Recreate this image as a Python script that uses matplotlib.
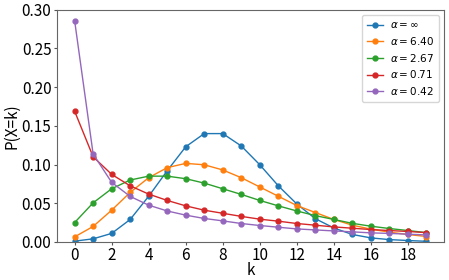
import matplotlib
matplotlib.use("Agg")
import matplotlib.pyplot as plt
import numpy as np

plt.rcParams['font.family'] = ['Noto Sans CJK JP', 'DejaVu Sans']

k = np.arange(20)

p_inf = [0.001, 0.004, 0.011, 0.029, 0.059, 0.092, 0.123, 0.140, 0.140, 0.124,
         0.0997, 0.0725, 0.049, 0.030, 0.018, 0.0096, 0.0052, 0.003, 0.0018, 0.0008]
p_640 = [0.0065, 0.020, 0.041, 0.064, 0.083, 0.096, 0.1015, 0.0997, 0.093, 0.083,
         0.071, 0.059, 0.047, 0.038, 0.029, 0.0216, 0.0165, 0.0126, 0.0096, 0.007]
p_267 = [0.025, 0.0505, 0.0687, 0.080, 0.085, 0.085, 0.0817, 0.076, 0.0687, 0.0614,
         0.0536, 0.0466, 0.040, 0.034, 0.029, 0.024, 0.0203, 0.0173, 0.0147, 0.012]
p_071 = [0.169, 0.110, 0.0873, 0.0725, 0.0618, 0.0536, 0.0466, 0.041, 0.037, 0.033,
         0.0294, 0.0268, 0.0238, 0.0216, 0.0194, 0.0177, 0.016, 0.0147, 0.0135, 0.012]
p_042 = [0.286, 0.1136, 0.077, 0.0588, 0.0475, 0.040, 0.0346, 0.0303, 0.0272, 0.0238,
         0.0212, 0.019, 0.0168, 0.0155, 0.0142, 0.013, 0.0117, 0.011, 0.010, 0.009]

series = [
    (p_inf, r'$\alpha=\infty$'),
    (p_640, r'$\alpha=6.40$'),
    (p_267, r'$\alpha=2.67$'),
    (p_071, r'$\alpha=0.71$'),
    (p_042, r'$\alpha=0.42$'),
]

fig = plt.figure(figsize=(4.49, 2.80), dpi=100)
ax = fig.add_axes([0.127, 0.136, 0.862, 0.829])

for vals, lab in series:
    ax.plot(k, vals, marker='o', markersize=3.5, linewidth=1.0, label=lab)

ax.set_ylim(0, 0.30)
ax.set_xticks(np.arange(0, 20, 2))
ax.set_yticks(np.arange(0, 0.31, 0.05))
ax.yaxis.set_major_formatter(matplotlib.ticker.FormatStrFormatter('%.2f'))
ax.set_xlabel('k', fontsize=11, labelpad=-1.5)
ax.set_ylabel('P(X=k)', fontsize=11, labelpad=1)
ax.tick_params(labelsize=11, colors='#555555', labelcolor='black', length=2.5, pad=1.5)
for s in ax.spines.values():
    s.set_color('#666666')

ax.legend(loc='upper right', fontsize=7.5, framealpha=0.8, handlelength=1.6,
          handletextpad=0.6, borderpad=0.5, labelspacing=0.45)

fig.savefig('out.png', dpi=100)
